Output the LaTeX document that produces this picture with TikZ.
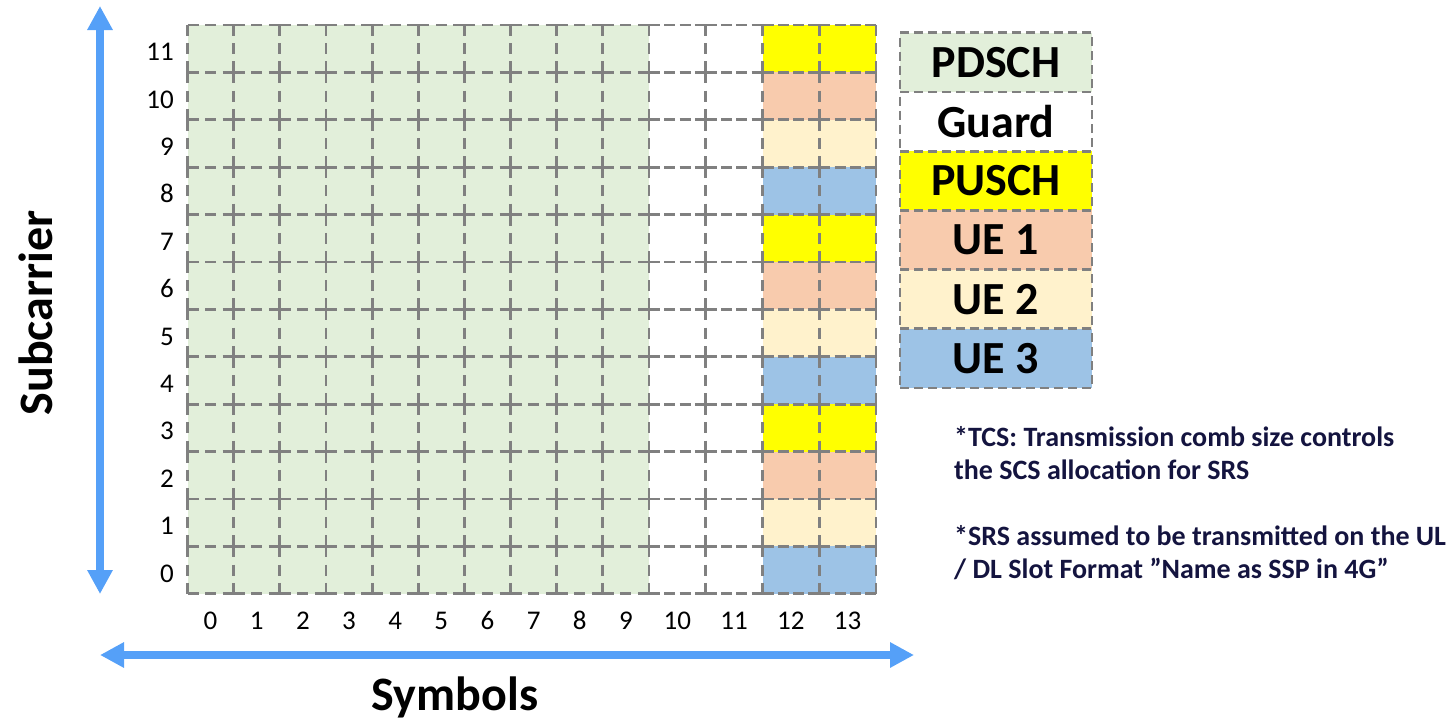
\documentclass[tikz,border=0pt]{standalone}
\usepackage{fontspec}
\setmainfont{Carlito}
\usetikzlibrary{arrows.meta}
\definecolor{pdsch}{HTML}{E2EFDA}
\definecolor{pusch}{HTML}{FFFF00}
\definecolor{ueone}{HTML}{F8CBAD}
\definecolor{uetwo}{HTML}{FFF2CC}
\definecolor{uethree}{HTML}{9DC3E6}
\definecolor{gridgray}{HTML}{808080}
\definecolor{axisblue}{HTML}{55A0F8}
\definecolor{notecol}{HTML}{14143F}
\tikzset{
  gline/.style={draw=gridgray, line width=2.8pt},
  hdashA/.style={dash pattern=on 11pt off 6.575pt},
  hdashB/.style={dash pattern=on 11pt off 4.25pt},
  vdash/.style={dash pattern=on 11pt off 7.2pt},
  legbox/.style={draw=gridgray, line width=2.8pt, dash pattern=on 9pt off 5pt,
    minimum width=192pt, minimum height=59.2pt, inner sep=0pt,
    font=\fontsize{46}{50}\selectfont\bfseries},
  ticklbl/.style={font=\fontsize{27}{30}\selectfont, inner sep=0pt},
  axislbl/.style={font=\fontsize{48}{52}\selectfont\bfseries, inner sep=0pt},
  axisarrow/.style={axisblue, line width=8pt},
  notetxt/.style={font=\fontsize{28}{33}\selectfont\bfseries, text=notecol, align=left, inner sep=0pt, anchor=base west}
}
\begin{document}
\begin{tikzpicture}[x=1pt,y=-1pt]
\useasboundingbox (0,0) rectangle (1455,720);
% column left edges and widths
\def\colx#1{\ifnum#1<10 \pgfmathsetmacro{\xa}{187.5+46.15*#1}\def\cw{46.15}\else\pgfmathsetmacro{\xa}{649+56.75*(#1-10)}\def\cw{56.75}\fi}
% fills
\foreach \c in {0,...,13}{
  \foreach \r in {0,...,11}{
    \colx{\c}
    \pgfmathsetmacro{\ya}{25+47.4*(11-\r)}
    \pgfmathtruncatemacro{\m}{mod(\r,4)}
    \ifnum\c<10
      \def\fc{pdsch}
    \else\ifnum\c<12
      \def\fc{white}
    \else
      \ifcase\m \def\fc{uethree}\or \def\fc{uetwo}\or \def\fc{ueone}\or \def\fc{pusch}\fi
    \fi\fi
    \fill[\fc] (\xa,\ya) rectangle ++(\cw,47.4);
  }
}
% horizontal dashed edges
\foreach \c in {0,...,13}{
  \foreach \k in {0,...,12}{
    \colx{\c}
    \pgfmathsetmacro{\ya}{25+47.4*\k}
    \ifnum\c<10 \def\hd{hdashA}\else\def\hd{hdashB}\fi
    \draw[gline,\hd] (\xa,\ya) -- ++(\cw,0);
  }
}
% vertical dashed edges
\foreach \c in {0,...,14}{
  \foreach \k in {0,...,11}{
    \ifnum\c<10 \pgfmathsetmacro{\xa}{187.5+46.15*\c}\else\pgfmathsetmacro{\xa}{649+56.75*(\c-10)}\fi
    \pgfmathsetmacro{\ya}{25+47.4*\k}
    \draw[gline,vdash] (\xa,\ya) -- ++(0,47.4);
  }
}
% row labels
\foreach \r in {0,...,11}{
  \pgfmathsetmacro{\ya}{25+47.4*(11-\r)+23.7+12}
  \node[ticklbl, anchor=base east] (row\r) at (174,\ya) {\r};
}
% column labels
\foreach \c in {0,...,13}{
  \colx{\c}
  \pgfmathsetmacro{\xb}{\xa+\cw/2}
  \node[ticklbl, anchor=base] (col\c) at (\xb,629) {\c};
}
% axes
\coordinate (vtop) at (100,6);
\coordinate (vbot) at (100,594);
\coordinate (hleft) at (100,655);
\coordinate (hright) at (914,655);
\draw[axisarrow, {Triangle[width=24pt,length=24pt]}-{Triangle[width=24pt,length=24pt]}] (vtop) -- (vbot);
\draw[axisarrow, {Triangle[width=24pt,length=24pt]}-{Triangle[width=24pt,length=24pt]}] (hleft) -- (hright);
\node[axislbl, rotate=90] (ylab) at (36,313) {Subcarrier};
\node[axislbl, anchor=base] (xlab) at (455,710) {Symbols};
% legend
\node[legbox, fill=pdsch] (lg1) at (996,62.3) {PDSCH};
\node[legbox, fill=white] (lg2) at (996,121.5) {Guard};
\node[legbox, fill=pusch] (lg3) at (996,180.7) {PUSCH};
\node[legbox, fill=ueone] (lg4) at (996,239.9) {UE 1};
\node[legbox, fill=uetwo] (lg5) at (996,299.1) {UE 2};
\node[legbox, fill=uethree] (lg6) at (996,358.3) {UE 3};
% notes
\node[notetxt] (note1) at (954,479) {*TCS: Transmission comb size controls\\the SCS allocation for SRS};
\node[notetxt] (note2) at (954,578) {*SRS assumed to be transmitted on the UL\\/ DL Slot Format ”Name as SSP in 4G”};
\end{tikzpicture}
\end{document}
